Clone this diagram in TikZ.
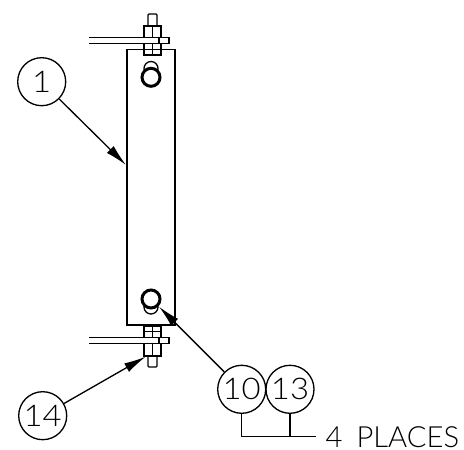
\documentclass[tikz,border=0pt]{standalone}
\usepackage{fontspec}
\setmainfont{Lato Light}
\usetikzlibrary{arrows.meta}
\begin{document}
\begin{tikzpicture}[line width=.75pt]
	\def \hor{ 0.02 };
	\def \ver{ -0.02 };
	\tikzset{balloon/.style={draw,circle,inner sep=0pt,minimum size=48*0.02cm,font=\addfontfeature{FakeStretch=1.1}\fontsize{17}{17}\selectfont}};
	\tikzset{leader/.style={-{Latex[length=12.5pt,width=5.5pt]}}};
	\useasboundingbox (0*\hor,0*\ver) rectangle (464*\hor,450*\ver);
	% plate
	\node[draw,inner sep=0pt,minimum width=48.3*0.02cm,minimum height=275.5*0.02cm] (plate) at (151*\hor,187.3*\ver) {};
	% top hardware
	\draw (89*\hor,37.7*\ver) -- (169*\hor,37.7*\ver) -- (169*\hor,43.7*\ver) -- (89*\hor,43.7*\ver);
	\draw (159*\hor,37.7*\ver) -- (159*\hor,43.7*\ver);
	\draw (148*\hor,26*\ver) -- (148*\hor,15*\ver) -- (149*\hor,14*\ver) -- (156*\hor,14*\ver) -- (157*\hor,15*\ver) -- (157*\hor,26*\ver);
	\draw (144*\hor,37.7*\ver) rectangle (161*\hor,26*\ver);
	\draw (152.5*\hor,37.7*\ver) -- (152.5*\hor,26*\ver);
	\draw (144*\hor,43.7*\ver) rectangle (161*\hor,55*\ver);
	\draw (152.5*\hor,43.7*\ver) -- (152.5*\hor,55*\ver);
	\draw (144*\hor,49.5*\ver) -- (161*\hor,49.5*\ver);
	% bottom hardware
	\draw (89*\hor,337.7*\ver) -- (169*\hor,337.7*\ver) -- (169*\hor,343.3*\ver) -- (89*\hor,343.3*\ver);
	\draw (159*\hor,337.7*\ver) -- (159*\hor,343.3*\ver);
	\draw (148*\hor,356*\ver) -- (148*\hor,366*\ver) -- (149*\hor,367*\ver) -- (156*\hor,367*\ver) -- (157*\hor,366*\ver) -- (157*\hor,356*\ver);
	\draw (144*\hor,343.3*\ver) rectangle (161*\hor,356*\ver);
	\draw (152.5*\hor,343.3*\ver) -- (152.5*\hor,356*\ver);
	\draw (144*\hor,326*\ver) rectangle (161*\hor,337.7*\ver);
	\draw (152.5*\hor,326*\ver) -- (152.5*\hor,337.7*\ver);
	\draw (144*\hor,331.5*\ver) -- (161*\hor,331.5*\ver);
	% slots and holes
	\draw (151*\hor,68.5*\ver) circle (7*0.02cm);
	\draw (151*\hor,307*\ver) circle (7*0.02cm);
	\draw[fill=white,line width=1.7pt] (151*\hor,77.3*\ver) circle (9*0.02cm);
	\draw[fill=white,line width=1.7pt] (151*\hor,299*\ver) circle (9*0.02cm);
	% balloons
	\node[balloon] (1) at (41.7*\hor,81.7*\ver) {1};
	\node[balloon] (14) at (42.7*\hor,415.7*\ver) {14};
	\node[balloon] (10) at (241.7*\hor,389.3*\ver) {10};
	\node[balloon] (13) at (290*\hor,389.3*\ver) {13};
	\coordinate (tip1) at (126*\hor,165*\ver);
	\coordinate (tip14) at (145.7*\hor,356.7*\ver);
	\coordinate (tip10) at (159*\hor,306.7*\ver);
	\draw[leader] (1) -- (tip1);
	\draw[leader] (14) -- (tip14);
	\draw[leader] (10) -- (tip10);
	\node[anchor=west,inner sep=0pt,font=\fontsize{16.6}{16.6}\selectfont] (places) at (325*\hor,437.5*\ver) {4\hspace{8pt}PLACES};
	\coordinate (join) at (290*\hor,436.5*\ver);
	\coordinate (tail) at (316*\hor,436.5*\ver);
	\draw (10.south) |- (join);
	\draw (13.south) -- (join);
	\draw (join) -- (tail);
\end{tikzpicture}
\end{document}
